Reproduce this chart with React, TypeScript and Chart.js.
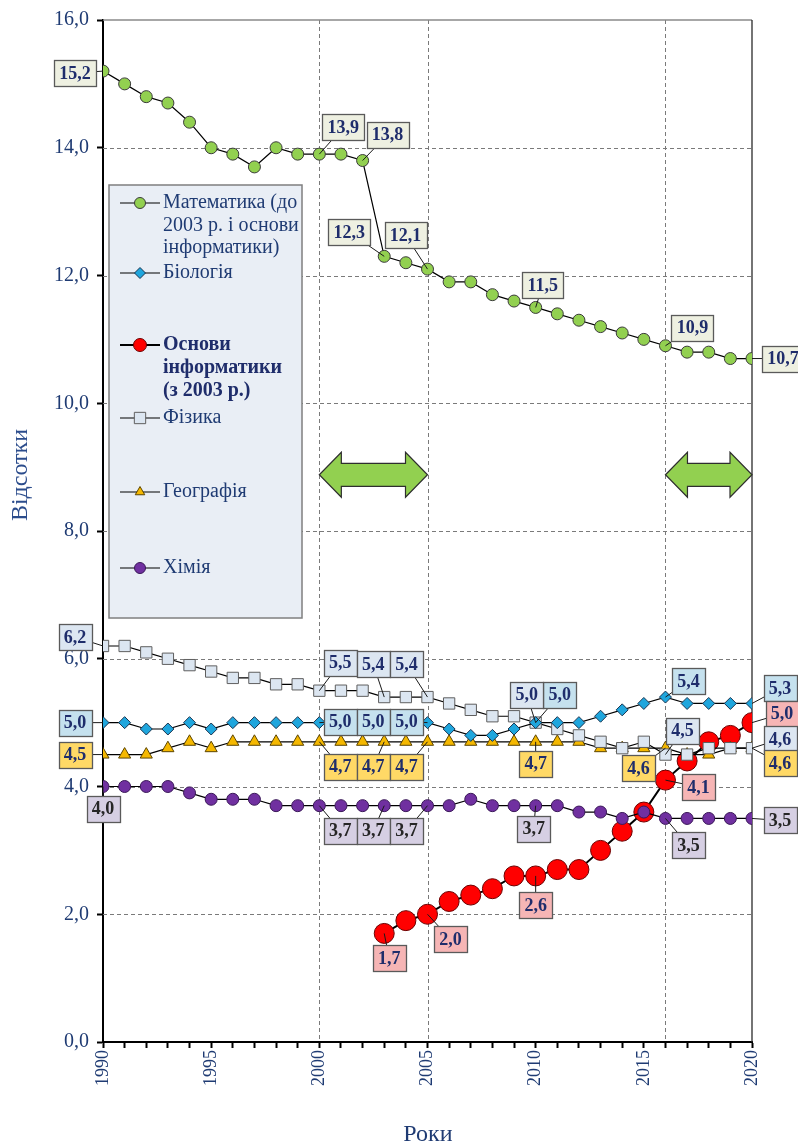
import React, { useEffect, useRef } from 'react';
import { Chart, registerables } from 'chart.js';

Chart.register(...registerables);

// ---------- DATA ----------
const years = [1990, 1991, 1992, 1993, 1994, 1995, 1996, 1997, 1998, 1999, 2000, 2001, 2002, 2003, 2004, 2005, 2006, 2007, 2008, 2009, 2010, 2011, 2012, 2013, 2014, 2015, 2016, 2017, 2018, 2019, 2020];

const mathValues = [15.2, 15.0, 14.8, 14.7, 14.4, 14.0, 13.9, 13.7, 14.0, 13.9, 13.9, 13.9, 13.8, 12.3, 12.2, 12.1, 11.9, 11.9, 11.7, 11.6, 11.5, 11.4, 11.3, 11.2, 11.1, 11.0, 10.9, 10.8, 10.8, 10.7, 10.7];
const biologyValues = [5.0, 5.0, 4.9, 4.9, 5.0, 4.9, 5.0, 5.0, 5.0, 5.0, 5.0, 5.0, 5.0, 5.0, 5.0, 5.0, 4.9, 4.8, 4.8, 4.9, 5.0, 5.0, 5.0, 5.1, 5.2, 5.3, 5.4, 5.3, 5.3, 5.3, 5.3];
const informaticsValues = [null, null, null, null, null, null, null, null, null, null, null, null, null, 1.7, 1.9, 2.0, 2.2, 2.3, 2.4, 2.6, 2.6, 2.7, 2.7, 3.0, 3.3, 3.6, 4.1, 4.4, 4.7, 4.8, 5.0];
const physicsValues = [6.2, 6.2, 6.1, 6.0, 5.9, 5.8, 5.7, 5.7, 5.6, 5.6, 5.5, 5.5, 5.5, 5.4, 5.4, 5.4, 5.3, 5.2, 5.1, 5.1, 5.0, 4.9, 4.8, 4.7, 4.6, 4.7, 4.5, 4.5, 4.6, 4.6, 4.6];
const geographyValues = [4.5, 4.5, 4.5, 4.6, 4.7, 4.6, 4.7, 4.7, 4.7, 4.7, 4.7, 4.7, 4.7, 4.7, 4.7, 4.7, 4.7, 4.7, 4.7, 4.7, 4.7, 4.7, 4.7, 4.6, 4.6, 4.6, 4.6, 4.5, 4.5, 4.6, 4.6];
const chemistryValues = [4.0, 4.0, 4.0, 4.0, 3.9, 3.8, 3.8, 3.8, 3.7, 3.7, 3.7, 3.7, 3.7, 3.7, 3.7, 3.7, 3.7, 3.8, 3.7, 3.7, 3.7, 3.7, 3.6, 3.6, 3.5, 3.6, 3.5, 3.5, 3.5, 3.5, 3.5];

const seriesNames = ['Математика (до 2003 р. і основи інформатики)', 'Біологія', 'Основи інформатики (з 2003 р.)', 'Фізика', 'Географія', 'Хімія'];
const legendLines = [
  ['Математика (до', '2003 р. і основи', 'інформатики)'],
  ['Біологія'],
  ['Основи', 'інформатики', '(з 2003 р.)'],
  ['Фізика'],
  ['Географія'],
  ['Хімія'],
];

const yTickValues = [0, 2, 4, 6, 8, 10, 12, 14, 16];
const periodLineYears = [2000, 2005, 2016];
const arrowPeriods = [[2000, 2005], [2016, 2020]];
const arrowLevel = 8.88;

// labelled years per series, with box offsets (px) from the point
const mathLabels = [[1990, -28, 2], [2000, 24, -27], [2002, 25, -26], [2003, -35, -24], [2005, -22, -34], [2010, 7, -22], [2016, 27, -18], [2020, 31, 0]];
const biologyLabels = [[1990, -28, 0], [2000, 21, -1], [2003, -11, -1], [2005, -21, -1], [2010, 24, -28], [2016, 23, -16], [2020, 28, -15]];
const informaticsLabels = [[2003, 5, 25], [2005, 23, 25], [2010, 0, 29], [2016, 33, 7], [2020, 30, -9]];
const physicsLabels = [[1990, -28, -9], [2000, 21, -28], [2003, -11, -33], [2005, -21, -33], [2010, -9, -28], [2016, 17, -24], [2020, 28, -9]];
const geographyLabels = [[1990, -28, 0], [2000, 21, 25], [2003, -11, 25], [2005, -21, 25], [2010, 0, 22], [2016, -27, 20], [2020, 28, 15]];
const chemistryLabels = [[1990, 0, 22], [2000, 21, 25], [2003, -11, 25], [2005, -21, 25], [2010, -2, 23], [2016, 23, 27], [2020, 28, 2]];

// ---------- STYLE ----------
const SERIF = "'Liberation Serif', 'Times New Roman', serif";
const NAVY = '#1F3B73';
const LABEL_TEXT = '#1F2D6B';

const styles = [
  { bg: '#92D050', border: '#3A3A3A', shape: 'circle', r: 6, lw: 1.2, box: '#EEF0E1', text: LABEL_TEXT },
  { bg: '#1FA6DD', border: '#1B3550', shape: 'rectRot', r: 6, lw: 1.2, box: '#C5E1EE', text: LABEL_TEXT },
  { bg: '#FF0000', border: '#6B0000', shape: 'circle', r: 10, lw: 2, box: '#F6B5B5', text: LABEL_TEXT },
  { bg: '#DCE6F1', border: '#5F5F5F', shape: 'rect', r: 8, lw: 1.2, box: '#DCE6F1', text: LABEL_TEXT },
  { bg: '#F5B800', border: '#5C4500', shape: 'triangle', r: 7, lw: 1.2, box: '#FFD966', text: LABEL_TEXT },
  { bg: '#7030A0', border: '#3A1858', shape: 'circle', r: 6, lw: 1.2, box: '#D6CFE3', text: '#262626' },
];

const allValues = [mathValues, biologyValues, informaticsValues, physicsValues, geographyValues, chemistryValues];
const allLabels = [mathLabels, biologyLabels, informaticsLabels, physicsLabels, geographyLabels, chemistryLabels];

const fmt = (v: number) => v.toFixed(1).replace('.', ',');

function drawMarker(ctx: CanvasRenderingContext2D, shape: string, x: number, y: number, r: number, bg: string, border: string) {
  ctx.beginPath();
  if (shape === 'circle') {
    ctx.arc(x, y, r, 0, Math.PI * 2);
  } else if (shape === 'rectRot') {
    ctx.moveTo(x, y - r); ctx.lineTo(x + r, y); ctx.lineTo(x, y + r); ctx.lineTo(x - r, y); ctx.closePath();
  } else if (shape === 'rect') {
    const s = r * Math.SQRT1_2;
    ctx.rect(x - s, y - s, 2 * s, 2 * s);
  } else if (shape === 'triangle') {
    ctx.moveTo(x, y - r); ctx.lineTo(x + r * 0.866, y + r * 0.5); ctx.lineTo(x - r * 0.866, y + r * 0.5); ctx.closePath();
  }
  ctx.fillStyle = bg; ctx.fill();
  ctx.strokeStyle = border; ctx.lineWidth = 1; ctx.stroke();
}

function drawDoubleArrow(ctx: CanvasRenderingContext2D, x1: number, x2: number, cy: number) {
  const halfH = 22.5, shaft = 11.5, head = 22;
  ctx.beginPath();
  ctx.moveTo(x1, cy);
  ctx.lineTo(x1 + head, cy - halfH);
  ctx.lineTo(x1 + head, cy - shaft);
  ctx.lineTo(x2 - head, cy - shaft);
  ctx.lineTo(x2 - head, cy - halfH);
  ctx.lineTo(x2, cy);
  ctx.lineTo(x2 - head, cy + halfH);
  ctx.lineTo(x2 - head, cy + shaft);
  ctx.lineTo(x1 + head, cy + shaft);
  ctx.lineTo(x1 + head, cy + halfH);
  ctx.closePath();
  ctx.fillStyle = '#92D050';
  ctx.fill();
  ctx.strokeStyle = '#2E2E2E';
  ctx.lineWidth = 1.2;
  ctx.stroke();
}

const overlayPlugin = {
  id: 'overlay',
  beforeDatasetsDraw(chart: any) {
    const { ctx, chartArea: a, scales } = chart;
    const x = scales.x, y = scales.y;
    ctx.save();
    // dashed grid
    ctx.strokeStyle = '#7A7A7A';
    ctx.lineWidth = 1;
    ctx.setLineDash([4, 3]);
    for (const v of yTickValues) {
      if (v === 0 || v === 16) continue;
      const py = Math.round(y.getPixelForValue(v)) + 0.5;
      ctx.beginPath(); ctx.moveTo(a.left, py); ctx.lineTo(a.right, py); ctx.stroke();
    }
    for (const yr of periodLineYears) {
      const px = Math.round(x.getPixelForValue(yr)) + 0.5;
      ctx.beginPath(); ctx.moveTo(px, a.top); ctx.lineTo(px, a.bottom); ctx.stroke();
    }
    ctx.setLineDash([]);
    // top & right border
    ctx.strokeStyle = '#8A8A8A';
    ctx.lineWidth = 1.5;
    ctx.beginPath(); ctx.moveTo(a.left, a.top); ctx.lineTo(a.right, a.top); ctx.stroke();
    ctx.strokeStyle = '#2A2A2A';
    ctx.lineWidth = 1.3;
    ctx.beginPath(); ctx.moveTo(a.right, a.top); ctx.lineTo(a.right, a.bottom); ctx.stroke();

    // arrows
    for (const [s, e] of arrowPeriods) {
      drawDoubleArrow(ctx, x.getPixelForValue(s), x.getPixelForValue(e), y.getPixelForValue(arrowLevel));
    }

    // legend box
    const lx = 109, ly = 185, lw = 193, lh = 433;
    ctx.fillStyle = '#E9EEF5';
    ctx.fillRect(lx, ly, lw, lh);
    ctx.strokeStyle = '#7F7F7F';
    ctx.lineWidth = 1.5;
    ctx.strokeRect(lx, ly, lw, lh);
    const legendY = [203, 273, 345, 418, 492, 568];
    const lineGap = [22.5, 0, 23, 0, 0, 0];
    for (let i = 0; i < legendLines.length; i++) {
      const st = styles[i];
      const my = legendY[i];
      ctx.strokeStyle = '#000';
      ctx.lineWidth = i === 2 ? 2.2 : 1.2;
      ctx.beginPath(); ctx.moveTo(120, my); ctx.lineTo(160, my); ctx.stroke();
      drawMarker(ctx, st.shape, 140, my, i === 2 ? 6.5 : (st.shape === 'rect' ? 8 : 5.5), st.bg, st.border);
      ctx.font = (i === 2 ? 'bold ' : '') + '20px ' + SERIF;
      ctx.fillStyle = i === 2 ? '#1F2D6B' : NAVY;
      ctx.textAlign = 'left';
      ctx.textBaseline = 'middle';
      legendLines[i].forEach((t, k) => ctx.fillText(t, 163, my + k * lineGap[i]));
    }
    ctx.restore();
  },
  afterDatasetsDraw(chart: any) {
    const { ctx, scales } = chart;
    const x = scales.x, y = scales.y;
    ctx.save();
    ctx.font = 'bold 18px ' + SERIF;
    const items: any[] = [];
    allLabels.forEach((list, si) => {
      list.forEach(([yr, dx, dy]) => {
        const idx = years.indexOf(yr);
        const v = allValues[si][idx] as number;
        const px = x.getPixelForValue(yr);
        const py = y.getPixelForValue(v);
        items.push({ px, py, bx: px + dx, by: py + dy, text: fmt(v), st: styles[si] });
      });
    });
    // leaders
    ctx.strokeStyle = '#1A1A1A';
    ctx.lineWidth = 1;
    for (const it of items) {
      ctx.beginPath(); ctx.moveTo(it.px, it.py); ctx.lineTo(it.bx, it.by); ctx.stroke();
    }
    // boxes
    for (const it of items) {
      const w = Math.round(ctx.measureText(it.text).width + 10);
      const h = 26;
      const left = Math.round(it.bx - w / 2) + 0.5;
      const top = Math.round(it.by - h / 2) + 0.5;
      ctx.fillStyle = it.st.box;
      ctx.fillRect(left, top, w, h);
      ctx.strokeStyle = '#5A5A5A';
      ctx.lineWidth = 1.3;
      ctx.strokeRect(left, top, w, h);
      ctx.fillStyle = it.st.text;
      ctx.textAlign = 'center';
      ctx.textBaseline = 'middle';
      ctx.fillText(it.text, it.bx, it.by + 1);
    }
    ctx.restore();
  },
  afterDraw(chart: any) {
    const { ctx } = chart;
    ctx.save();
    ctx.fillStyle = '#2B4C8C';
    ctx.font = '24px ' + SERIF;
    ctx.textAlign = 'center';
    ctx.textBaseline = 'middle';
    ctx.translate(21, 475);
    ctx.rotate(-Math.PI / 2);
    ctx.fillText('Відсотки', 0, 0);
    ctx.restore();
    ctx.save();
    ctx.fillStyle = '#1F3B73';
    ctx.font = '24px ' + SERIF;
    ctx.textAlign = 'center';
    ctx.textBaseline = 'middle';
    ctx.fillText('Роки', 428, 1135);
    ctx.restore();
  },
};

export default function App() {
  const canvasRef = useRef<HTMLCanvasElement | null>(null);

  useEffect(() => {
    if (!canvasRef.current) return;
    const datasets = allValues.map((vals, i) => {
      const st = styles[i];
      return {
        label: seriesNames[i],
        data: years.map((yr, k) => ({ x: yr, y: vals[k] })),
        borderColor: '#000000',
        borderWidth: st.lw,
        backgroundColor: st.bg,
        pointBackgroundColor: st.bg,
        pointBorderColor: st.border,
        pointBorderWidth: 1,
        pointStyle: st.shape,
        pointRadius: st.r,
        pointHoverRadius: st.r,
        tension: 0,
        spanGaps: false,
        order: i === 2 ? 10 : i,
      };
    });

    const chart = new Chart(canvasRef.current, {
      type: 'line',
      data: { datasets: datasets as any },
      plugins: [overlayPlugin],
      options: {
        animation: false,
        responsive: false,
        devicePixelRatio: 1,
        layout: { padding: { top: 17, right: 46, left: 0, bottom: 0 } },
        plugins: { legend: { display: false }, tooltip: { enabled: false } },
        scales: {
          x: {
            type: 'linear',
            min: 1990,
            max: 2020,
            offset: false,
            afterFit: (s: any) => { s.height = 106; },
            grid: { drawOnChartArea: false, drawTicks: true, tickLength: 6, tickColor: '#000', tickWidth: 2 },
            border: { color: '#000', width: 2 },
            ticks: {
              stepSize: 1,
              autoSkip: false,
              maxRotation: 90,
              minRotation: 90,
              padding: 2,
              color: NAVY,
              font: { family: SERIF, size: 18 },
              callback: (v: any) => (Number(v) % 5 === 0 ? String(v) : ''),
            },
          },
          y: {
            min: 0,
            max: 16,
            afterFit: (s: any) => { s.width = 103; },
            grid: { drawOnChartArea: false, drawTicks: true, tickLength: 6, tickColor: '#000', tickWidth: 2 },
            border: { color: '#000', width: 2 },
            ticks: {
              stepSize: 2,
              padding: 8,
              color: NAVY,
              font: { family: SERIF, size: 20 },
              callback: (v: any) => fmt(Number(v)),
            },
          },
        },
      },
    });
    return () => chart.destroy();
  }, []);

  return (
    <div style={{ position: 'absolute', left: 0, top: 0, width: 798, height: 1148, background: '#fff' }}>
      <canvas ref={canvasRef} width={798} height={1148} style={{ display: 'block', width: 798, height: 1148 }} />
    </div>
  );
}
